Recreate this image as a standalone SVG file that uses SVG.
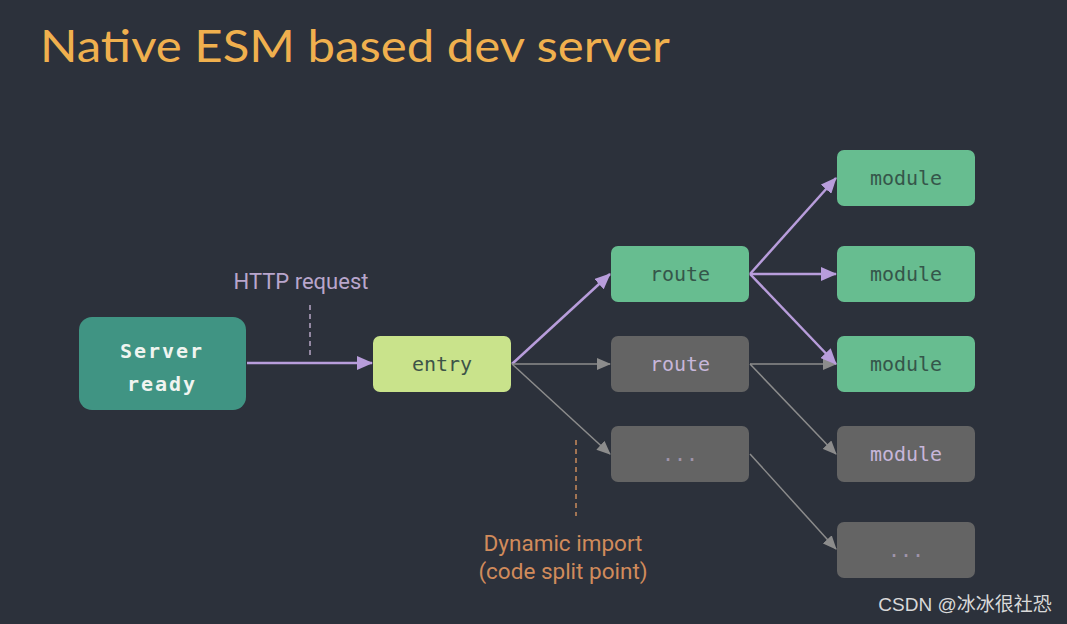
<svg xmlns="http://www.w3.org/2000/svg" width="1067" height="624" viewBox="0 0 1067 624">
<style>
.mono{font-family:"DejaVu Sans Mono","Liberation Mono",monospace;font-size:20px;text-anchor:middle}
.sans{font-family:Roboto,"Liberation Sans",sans-serif;text-anchor:middle}
.green rect{fill:#67bd90}
.green text{fill:#35564a}
.gray rect{fill:#646464}
.gray text{fill:#c7b6da}
.p{stroke:#b89ddb;stroke-width:2.5;fill:none}
.g{stroke:#8c8c8c;stroke-width:1.5;fill:none}
</style>
<defs>
<marker id="ap" markerUnits="userSpaceOnUse" markerWidth="16" markerHeight="14" refX="15" refY="7" orient="auto"><path d="M0,0 L16,7 L0,14 Z" fill="#b89ddb"/></marker>
<marker id="ag" markerUnits="userSpaceOnUse" markerWidth="14" markerHeight="12" refX="13" refY="6" orient="auto"><path d="M0,0 L14,6 L0,12 Z" fill="#8c8c8c"/></marker>
</defs>
<rect width="1067" height="624" fill="#2c313b"/>
<text x="40" y="62" font-family="Lato,'Open Sans',sans-serif" font-size="45" fill="#f0b04e" textLength="630" lengthAdjust="spacingAndGlyphs">Native ESM based dev server</text>
<g id="connectors">
<line class="p" x1="247" y1="363" x2="372" y2="363" marker-end="url(#ap)"/>
<line x1="310" y1="305" x2="310" y2="358" stroke="#b7a6c6" stroke-width="1.5" stroke-dasharray="5,4"/>
<line x1="576" y1="440" x2="576" y2="516" stroke="#c98a5c" stroke-width="1.5" stroke-dasharray="5,4"/>
<line class="p" x1="512" y1="364" x2="610" y2="274" marker-end="url(#ap)"/>
<line class="g" x1="512" y1="364" x2="610" y2="364" marker-end="url(#ag)"/>
<line class="g" x1="512" y1="364" x2="610" y2="454" marker-end="url(#ag)"/>
<line class="p" x1="750" y1="274" x2="836" y2="178" marker-end="url(#ap)"/>
<line class="p" x1="750" y1="274" x2="836" y2="274" marker-end="url(#ap)"/>
<line class="g" x1="750" y1="364" x2="836" y2="364" marker-end="url(#ag)"/>
<line class="p" x1="750" y1="274" x2="836" y2="364" marker-end="url(#ap)"/>
<line class="g" x1="750" y1="364" x2="836" y2="454" marker-end="url(#ag)"/>
<line class="g" x1="750" y1="454" x2="836" y2="549" marker-end="url(#ag)"/>
</g>
<g id="server">
<rect x="79" y="317" width="167" height="93" rx="13" fill="#409483"/>
<text class="mono" x="162" y="358" font-size="27" font-weight="bold" fill="#f0f4f0" letter-spacing="2">Server</text>
<text class="mono" x="162" y="391" font-size="27" font-weight="bold" fill="#f0f4f0" letter-spacing="2">ready</text>
</g>
<g id="entry">
<rect x="373" y="336" width="138" height="56" rx="7" fill="#c9e38b"/>
<text class="mono" x="442" y="371" fill="#3d5448">entry</text>
</g>
<g id="route1" class="green"><rect x="611" y="246" width="138" height="56" rx="7"/><text class="mono" x="680" y="281">route</text></g>
<g id="route2" class="gray"><rect x="611" y="336" width="138" height="56" rx="7"/><text class="mono" x="680" y="371">route</text></g>
<g id="route3" class="gray"><rect x="611" y="426" width="138" height="56" rx="7"/><text class="mono" x="680" y="461" opacity="0.6" font-size="16">...</text></g>
<g id="module1" class="green"><rect x="837" y="150" width="138" height="56" rx="7"/><text class="mono" x="906" y="185">module</text></g>
<g id="module2" class="green"><rect x="837" y="246" width="138" height="56" rx="7"/><text class="mono" x="906" y="281">module</text></g>
<g id="module3" class="green"><rect x="837" y="336" width="138" height="56" rx="7"/><text class="mono" x="906" y="371">module</text></g>
<g id="module4" class="gray"><rect x="837" y="426" width="138" height="56" rx="7"/><text class="mono" x="906" y="461">module</text></g>
<g id="module5" class="gray"><rect x="837" y="522" width="138" height="56" rx="7"/><text class="mono" x="906" y="557" opacity="0.6" font-size="16">...</text></g>
<g id="labels">
<text class="sans" x="301" y="289" font-size="22" fill="#b9a6cc">HTTP request</text>
<text class="sans" x="563" y="551" font-size="22.5" fill="#d18b5b">Dynamic import</text>
<text class="sans" x="563" y="579" font-size="22.5" fill="#d18b5b">(code split point)</text>
<text x="965" y="611" font-family="'Liberation Sans','Noto Sans CJK SC',sans-serif" font-size="19" fill="#d9d9d9" text-anchor="middle">CSDN @冰冰很社恐</text>
</g>
</svg>
